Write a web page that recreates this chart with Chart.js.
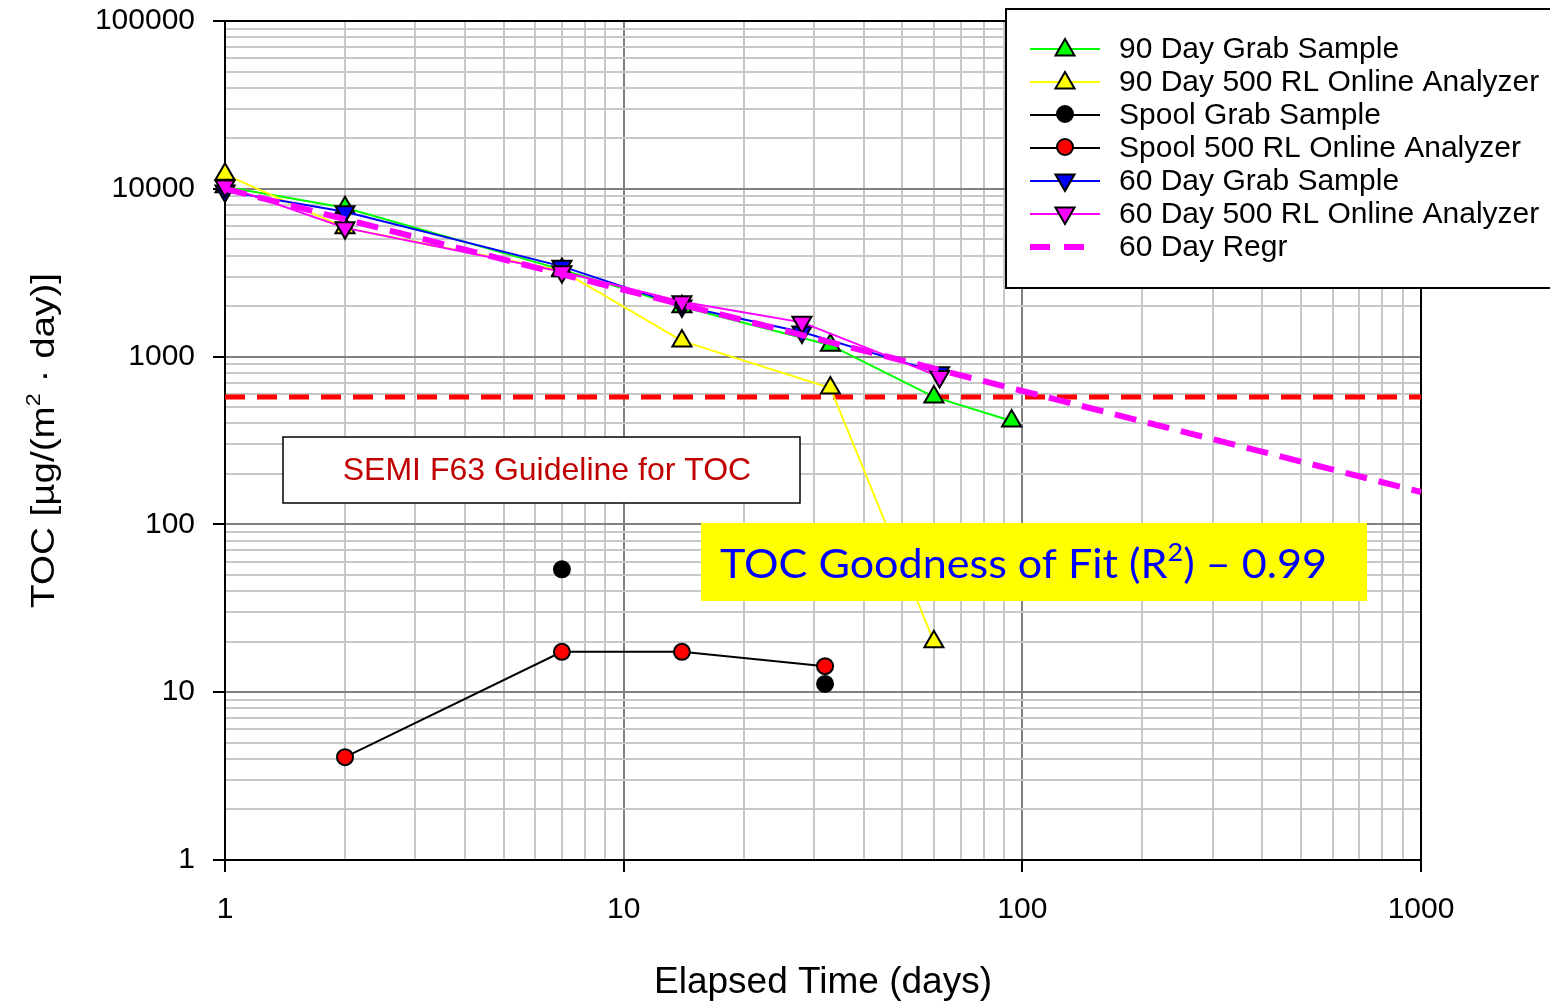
<!DOCTYPE html>
<html>
<head>
<meta charset="utf-8">
<script src="https://cdn.jsdelivr.net/npm/chart.js@4.4.1/dist/chart.umd.min.js"></script>
<style>
  body { margin: 0; background: #fff; }
  #wrap { width: 1550px; height: 1004px; position: relative; }
</style>
</head>
<body>
<div id="wrap"><canvas id="toc"></canvas></div>
<script>
// elapsed time (days) and TOC [ug/(m2 day)]
const grab90Days = [1, 2, 7, 14, 33, 60, 94];
const grab90Toc = [10300, 7700, 3300, 1980, 1170, 575, 413];
const online90Days = [1, 2, 7, 14, 33, 60];
const online90Toc = [12200, 5850, 3250, 1240, 650, 20];
const spoolGrabDays = [7, 32];
const spoolGrabToc = [54, 11.2];
const spoolOnlineDays = [2, 7, 14, 32];
const spoolOnlineToc = [4.1, 17.4, 17.4, 14.3];
const grab60Days = [1, 2, 7, 14, 28, 62];
const grab60Toc = [9700, 7300, 3450, 2000, 1400, 800];
const online60Days = [1, 2, 7, 14, 28, 62];
const online60Toc = [10400, 5850, 3200, 2120, 1600, 760];
const regr60Days = [1, 1000];
const regr60Toc = [10000, 156];
const guideDays = [1, 1000];
const guideToc = [575, 575];

const xTicks = [1, 10, 100, 1000];
const yTicks = [1, 10, 100, 1000, 10000, 100000];

const FONT = '"Liberation Sans", Arial, sans-serif';

function pts(xs, ys) {
    return xs.map(function(x, i) { return { x: x, y: ys[i] }; });
}

// 1..9 per decade so the minor grid shows
function decadeTicks(majors) {
    const t = [];
    for (let i = 0; i < majors.length - 1; i++) {
        for (let m = 1; m < 10; m++) t.push({ value: m * majors[i] });
    }
    t.push({ value: majors[majors.length - 1] });
    return t;
}

const datasets = [
    {
        label: '90 Day Grab Sample', data: pts(grab90Days, grab90Toc),
        borderColor: '#00ff00', backgroundColor: '#00ff00', borderWidth: 2,
        pointStyle: 'triangle', pointRadius: 11, pointBorderColor: '#000', pointBorderWidth: 2,
        order: 6, mark: 'up'
    },
    {
        label: '90 Day 500 RL Online Analyzer', data: pts(online90Days, online90Toc),
        borderColor: '#ffff00', backgroundColor: '#ffff00', borderWidth: 2,
        pointStyle: 'triangle', pointRadius: 11, pointBorderColor: '#000', pointBorderWidth: 2,
        order: 5, mark: 'up'
    },
    {
        label: 'Spool Grab Sample', data: pts(spoolGrabDays, spoolGrabToc),
        borderColor: '#000', backgroundColor: '#000', borderWidth: 2, showLine: false,
        pointStyle: 'circle', pointRadius: 8, pointBorderColor: '#000', pointBorderWidth: 2,
        order: 4, mark: 'dot'
    },
    {
        label: 'Spool 500 RL Online Analyzer', data: pts(spoolOnlineDays, spoolOnlineToc),
        borderColor: '#000', backgroundColor: '#ff0000', borderWidth: 2,
        pointStyle: 'circle', pointRadius: 8, pointBorderColor: '#000', pointBorderWidth: 2,
        order: 3, mark: 'dot'
    },
    {
        label: '60 Day Grab Sample', data: pts(grab60Days, grab60Toc),
        borderColor: '#0000ff', backgroundColor: '#0000ff', borderWidth: 2,
        pointStyle: 'triangle', pointRotation: 180, pointRadius: 11, pointBorderColor: '#000', pointBorderWidth: 2,
        order: 2, mark: 'down'
    },
    {
        label: '60 Day 500 RL Online Analyzer', data: pts(online60Days, online60Toc),
        borderColor: '#ff00ff', backgroundColor: '#ff00ff', borderWidth: 2,
        pointStyle: 'triangle', pointRotation: 180, pointRadius: 11, pointBorderColor: '#000', pointBorderWidth: 2,
        order: 1, mark: 'down'
    },
    {
        label: '60 Day Regr', data: pts(regr60Days, regr60Toc),
        borderColor: '#ff00ff', borderWidth: 6, borderDash: [22, 12], pointRadius: 0,
        order: 0, mark: 'dash'
    },
    {
        label: 'guide', data: pts(guideDays, guideToc),
        borderColor: '#ff0000', borderWidth: 5, borderDash: [20, 12], pointRadius: 0,
        order: 9, mark: null
    }
];

function drawMark(ctx, kind, x, y, r, fill) {
    ctx.save();
    ctx.fillStyle = fill;
    ctx.strokeStyle = '#000';
    ctx.lineWidth = 2;
    ctx.beginPath();
    if (kind === 'dot') {
        ctx.arc(x, y, r, 0, Math.PI * 2);
    } else {
        const s = kind === 'up' ? 1 : -1;
        ctx.moveTo(x, y - s * r);
        ctx.lineTo(x + 0.866 * r, y + s * 0.5 * r);
        ctx.lineTo(x - 0.866 * r, y + s * 0.5 * r);
        ctx.closePath();
    }
    ctx.fill();
    ctx.stroke();
    ctx.restore();
}

// text with one superscript piece, left aligned at x, baseline y
function drawSup(ctx, parts, x, y, size, family, color) {
    ctx.fillStyle = color;
    ctx.textBaseline = 'alphabetic';
    ctx.textAlign = 'left';
    let cx = x;
    parts.forEach(function(p) {
        ctx.font = (p.sup ? Math.round(size * 0.62) : size) + 'px ' + family;
        ctx.fillText(p.t, cx, p.sup ? y - size * 0.42 : y);
        cx += ctx.measureText(p.t).width;
    });
    return cx - x;
}

function supWidth(ctx, parts, size, family) {
    let w = 0;
    parts.forEach(function(p) {
        ctx.font = (p.sup ? Math.round(size * 0.62) : size) + 'px ' + family;
        w += ctx.measureText(p.t).width;
    });
    return w;
}

const extras = {
    id: 'extras',
    beforeDatasetsDraw: function(chart) {
        const a = chart.chartArea;
        const ctx = chart.ctx;
        ctx.save();
        ctx.strokeStyle = '#000';
        ctx.lineWidth = 2;
        ctx.beginPath();
        ctx.moveTo(a.left, a.top);
        ctx.lineTo(a.right, a.top);
        ctx.lineTo(a.right, a.bottom);
        ctx.stroke();
        ctx.restore();
    },
    afterDatasetsDraw: function(chart) {
        const ctx = chart.ctx;
        ctx.save();
        // guideline label box
        ctx.fillStyle = '#fff';
        ctx.fillRect(283, 437, 517, 66);
        ctx.strokeStyle = '#000';
        ctx.lineWidth = 1.5;
        ctx.strokeRect(283, 437, 517, 66);
        ctx.fillStyle = '#c00000';
        ctx.font = '32px ' + FONT;
        ctx.textAlign = 'center';
        ctx.textBaseline = 'middle';
        ctx.fillText('SEMI F63 Guideline for TOC', 547, 471);

        // goodness of fit box
        ctx.fillStyle = '#ffff00';
        ctx.fillRect(701, 523, 666, 78);
        const fit = [{ t: 'TOC Goodness of Fit (R' }, { t: '2', sup: true }, { t: ') \u2013 0.99' }];
        const fam = 'Lato, "Open Sans", sans-serif';
        const w = supWidth(ctx, fit, 40, fam);
        ctx.translate(720, 578);
        ctx.scale(607 / w, 1);
        drawSup(ctx, fit, 0, 0, 40, fam, '#0000ff');
        ctx.restore();
    },
    afterDraw: function(chart) {
        const ctx = chart.ctx;
        const a = chart.chartArea;
        ctx.save();

        // axis titles
        ctx.fillStyle = '#000';
        ctx.font = '37px ' + FONT;
        ctx.textAlign = 'center';
        ctx.textBaseline = 'middle';
        ctx.fillText('Elapsed Time (days)', (a.left + a.right) / 2, 983);

        const yt = [{ t: 'TOC [\u00b5g/(m' }, { t: '2', sup: true }, { t: ' \u00b7 day)]' }];
        const yw = supWidth(ctx, yt, 33, FONT);
        ctx.save();
        ctx.translate(54, (a.top + a.bottom) / 2);
        ctx.rotate(-Math.PI / 2);
        ctx.scale(335 / yw, 1);
        drawSup(ctx, yt, -yw / 2, 0, 33, FONT, '#000');
        ctx.restore();

        // legend
        ctx.fillStyle = '#fff';
        ctx.fillRect(1006, 9, 560, 279);
        ctx.strokeStyle = '#000';
        ctx.lineWidth = 2;
        ctx.strokeRect(1006, 9, 560, 279);
        chart.data.datasets.forEach(function(ds, i) {
            if (!ds.mark) return;
            const y = 49 + i * 33;
            ctx.save();
            ctx.strokeStyle = ds.borderColor;
            ctx.lineWidth = ds.mark === 'dash' ? 6 : 2;
            if (ds.mark === 'dash') ctx.setLineDash([20, 14]);
            ctx.beginPath();
            ctx.moveTo(1030, y);
            ctx.lineTo(ds.mark === 'dash' ? 1084 : 1100, y);
            ctx.stroke();
            ctx.restore();
            if (ds.mark !== 'dash') {
                drawMark(ctx, ds.mark, 1065, ds.mark === 'up' ? y + 1 : y - 1,
                    ds.mark === 'dot' ? 8 : 11, ds.backgroundColor);
            }
            ctx.fillStyle = '#000';
            ctx.font = '30px ' + FONT;
            ctx.textAlign = 'left';
            ctx.textBaseline = 'middle';
            ctx.fillText(ds.label, 1119, y + 1);
        });
        ctx.restore();
    }
};

function gridColor(majors) {
    return function(c) {
        return c.tick && majors.includes(c.tick.value) ? '#808080' : '#c8c8c8';
    };
}
function tickColor(majors) {
    return function(c) {
        return c.tick && majors.includes(c.tick.value) ? '#000' : 'rgba(0,0,0,0)';
    };
}

new Chart(document.getElementById('toc').getContext('2d'), {
    type: 'line',
    data: { datasets: datasets },
    plugins: [extras],
    options: {
        responsive: true,
        maintainAspectRatio: false,
        animation: false,
        layout: { padding: { top: 21, right: 129, bottom: 0, left: 0 } },
        datasets: { line: { clip: false } },
        plugins: { legend: { display: false }, tooltip: { enabled: false } },
        scales: {
            x: {
                type: 'logarithmic', min: 1, max: 1000,
                afterBuildTicks: function(s) { s.ticks = decadeTicks(xTicks); },
                afterFit: function(s) { s.height = 144; s.paddingLeft = 0; s.paddingRight = 0; },
                border: { color: '#000', width: 2 },
                grid: {
                    color: gridColor(xTicks), lineWidth: 2, tickLength: 12,
                    tickColor: tickColor(xTicks), tickWidth: 2
                },
                ticks: {
                    autoSkip: false, maxRotation: 0, padding: 20, color: '#000',
                    font: { family: FONT, size: 30 },
                    callback: function(v) { return xTicks.includes(v) ? String(v) : ''; }
                }
            },
            y: {
                type: 'logarithmic', min: 1, max: 100000,
                afterBuildTicks: function(s) { s.ticks = decadeTicks(yTicks); },
                afterFit: function(s) { s.width = 225; s.paddingTop = 0; s.paddingBottom = 0; },
                border: { color: '#000', width: 2 },
                grid: {
                    color: gridColor(yTicks), lineWidth: 2, tickLength: 12,
                    tickColor: tickColor(yTicks), tickWidth: 2
                },
                ticks: {
                    autoSkip: false, padding: 18, color: '#000',
                    font: { family: FONT, size: 30 },
                    callback: function(v) { return yTicks.includes(v) ? String(v) : ''; }
                }
            }
        }
    }
});
</script>
</body>
</html>
